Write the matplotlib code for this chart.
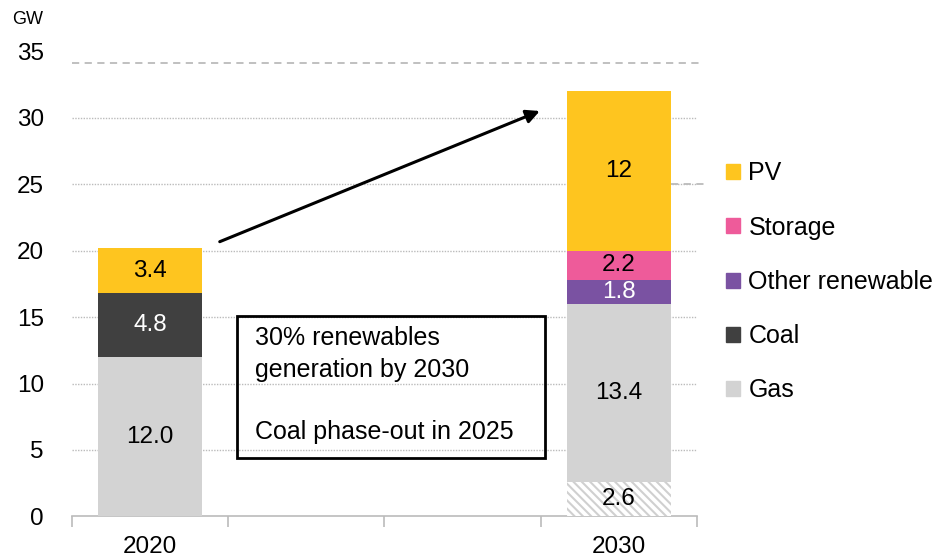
import matplotlib.pyplot as plt
from matplotlib.patches import Rectangle, Patch

plt.rcParams['font.family'] = ['Liberation Sans', 'DejaVu Sans']

# ---------------------------------------------------
# Data
# ---------------------------------------------------
years = ['2020', '', '', '2030']
gas_existing = [12.0, 0, 0, 13.4]
gas_new = [0, 0, 0, 2.6]   # hatched part at bottom of 2030
coal = [4.8, 0, 0, 0]
other_renew = [0, 0, 0, 1.8]
storage = [0, 0, 0, 2.2]
pv = [3.4, 0, 0, 12]

c_pv = '#FEC51F'
c_storage = '#EE5B9A'
c_other = '#7A52A2'
c_coal = '#404040'
c_gas = '#D3D3D3'

fig = plt.figure(figsize=(9.32, 5.6), dpi=100)
ax = fig.add_axes([0.077, 0.078, 0.671, 0.83])

x = list(range(len(years)))
w = 0.67

plt.rcParams['hatch.color'] = '#D0D0D0'
plt.rcParams['hatch.linewidth'] = 1.5

# stack order: hatched gas, gas, coal, other renewable, storage, PV
bottom = [0.0] * len(x)
layers = [
    (gas_new, 'white', True),
    (gas_existing, c_gas, False),
    (coal, c_coal, False),
    (other_renew, c_other, False),
    (storage, c_storage, False),
    (pv, c_pv, False),
]

for vals, col, hatched in layers:
    ax.bar(x, vals, w, bottom=bottom, color=col,
           hatch='\\\\\\\\' if hatched else None,
           edgecolor='#D0D0D0' if hatched else col, linewidth=0, zorder=3)
    for i, v in enumerate(vals):
        if v > 0:
            txt_col = 'white' if col in (c_coal, c_other) else 'black'
            if i == 0:
                label = f'{v:.1f}'
            else:
                label = f'{v:g}'
            ax.text(i, bottom[i] + v / 2, label, ha='center', va='center',
                    fontsize=17.5, color=txt_col, zorder=5)
    bottom = [b + v for b, v in zip(bottom, vals)]

ax.set_xlim(-0.5, 3.5)
ax.set_ylim(0, 35)
ax.set_yticks(range(0, 36, 5))
ax.tick_params(axis='y', length=0, labelsize=17.5, pad=20)

# dotted gridlines
for yv in range(5, 31, 5):
    ax.axhline(yv, color='#BBBBBB', linestyle=(0, (1, 1)), linewidth=1, zorder=1)

# dashed reference lines
ax.plot([-0.5, 3.54], [34.1, 34.1], color='#BBBBBB', linestyle=(0, (4, 3)),
        linewidth=1.3, zorder=2, clip_on=False)
ax.plot([3.33, 3.56], [25, 25], color='#BBBBBB', linestyle=(0, (4, 3)),
        linewidth=1.3, zorder=4, clip_on=False)

for s in ['left', 'right', 'top']:
    ax.spines[s].set_visible(False)
ax.spines['bottom'].set_color('#BBBBBB')
ax.spines['bottom'].set_linewidth(1.2)

ax.set_xticks([-0.5, 0.5, 1.5, 2.5, 3.5])
ax.set_xticklabels([])
ax.set_xticks(x, minor=True)
ax.set_xticklabels(years, minor=True, fontsize=17.5)
ax.tick_params(axis='x', which='major', length=8, color='#BBBBBB', width=1.2)
ax.tick_params(axis='x', which='minor', length=0, pad=14)

fig.text(0.013, 0.957, 'GW', fontsize=13)

# arrow
ax.annotate('', xy=(2.51, 30.6), xytext=(0.43, 20.6),
            arrowprops=dict(arrowstyle='-|>', color='black', lw=2.2,
                            mutation_scale=20), zorder=6)

# text box
ax.add_patch(Rectangle((0.556, 4.4), 1.97, 10.7, fill=False,
                       edgecolor='black', linewidth=2, zorder=6))
ax.text(0.67, 14.3, '30% renewables\ngeneration by 2030\n\nCoal phase-out in 2025',
        ha='left', va='top', fontsize=18, linespacing=1.38, zorder=7)

# legend
handles = [Patch(color=c_pv, label='PV'),
           Patch(color=c_storage, label='Storage'),
           Patch(color=c_other, label='Other renewable'),
           Patch(color=c_coal, label='Coal'),
           Patch(color=c_gas, label='Gas')]
ax.legend(handles=handles, loc='upper left', bbox_to_anchor=(1.03, 0.785),
          frameon=False, fontsize=18, handlelength=0.55, handleheight=0.55,
          handletextpad=0.35, labelspacing=1.21, borderaxespad=0)

fig.savefig('out.png', dpi=100)
